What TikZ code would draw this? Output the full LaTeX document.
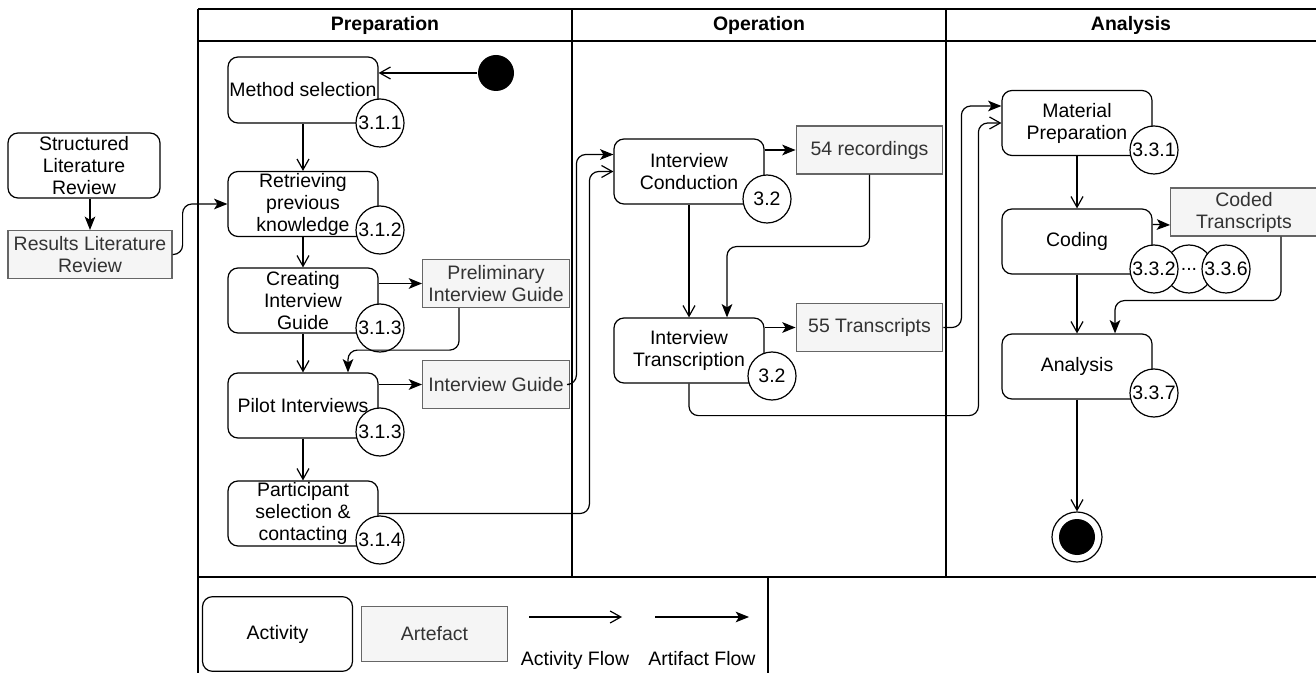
\documentclass[tikz,border=0pt]{standalone}
\usepackage{fontspec}
\setmainfont{Liberation Sans}
\usepackage{xcolor}
\usepackage{tikz}
\usetikzlibrary{arrows.meta,calc,positioning}

\definecolor{artfill}{RGB}{245,245,245}
\definecolor{artline}{RGB}{102,102,102}
\definecolor{arttext}{RGB}{51,51,51}

\tikzset{
  activity/.style={draw, rounded corners=7.5pt, minimum width=112.5pt, minimum height=48.75pt, inner sep=0pt, align=center},
  artefact/.style={draw=artline, fill=artfill, text=arttext, minimum width=110pt, minimum height=36pt, inner sep=0pt, align=center},
  secnum/.style={draw, circle, fill=white, minimum size=36pt, inner sep=0pt},
  actflow/.style={-{Straight Barb[length=8pt,width=9pt]}, rounded corners=7pt},
  artflow/.style={-{Stealth[length=10pt,width=8pt,inset=2.5pt]}, rounded corners=7pt},
}

\begin{document}
\begin{tikzpicture}[x=0.75pt,y=0.75pt,yscale=-1,line width=0.9pt,
  every node/.append style={font=\fontsize{14.6}{16.5}\selectfont}]
\useasboundingbox (0,0) rectangle (1316,673);

%Lanes
\draw (198,9) -- (1316,9);
\draw (198,41) -- (1316,41);
\draw (198,9) -- (198,673);
\draw (572,9) -- (572,577);
\draw (946,9) -- (946,577);
\draw (198,577) -- (1316,577);
\draw (768,577) -- (768,673);
% Text Node
\node[font=\fontsize{14.6}{16.5}\selectfont\bfseries] (hPrep) at (385,25) {Preparation};
\node[font=\fontsize{14.6}{16.5}\selectfont\bfseries] (hOper) at (759,25) {Operation};
\node[font=\fontsize{14.6}{16.5}\selectfont\bfseries] (hAnal) at (1131,25) {Analysis};

%Literature review
\node[activity, minimum width=114pt] (slr) at (84,165.5) {Structured\\Literature\\Review};
\node[artefact, minimum width=123pt] (resultsLR) at (90,254.5) {Results Literature\\Review};

%Preparation
\node[circle, fill=black, minimum size=27pt, inner sep=0pt] (start) at (496,73) {};
\node[activity, minimum height=49.5pt] (methodSel) at (303,90) {Method selection};
\node[activity] (retrieve) at (303,204) {Retrieving\\previous\\knowledge};
\node[activity] (createGuide) at (303,300.5) {Creating\\Interview\\Guide};
\node[activity] (pilot) at (303,405.5) {Pilot Interviews};
\node[activity] (participant) at (303,513.5) {Participant\\selection \&\\contacting};
\node[artefact] (prelimGuide) at (496,283.5) {Preliminary\\Interview Guide};
\node[artefact] (guide) at (496,384.5) {Interview Guide};
\node[secnum] (n311) at (380,123) {3.1.1};
\node[secnum] (n312) at (380,230) {3.1.2};
\node[secnum] (n313a) at (380,328) {3.1.3};
\node[secnum] (n313b) at (380,432) {3.1.3};
\node[secnum] (n314) at (380,540) {3.1.4};

%Operation
\node[activity] (conduct) at (689,171.5) {Interview\\Conduction};
\node[activity] (transcribe) at (689,350.5) {Interview\\Transcription};
\node[artefact] (recordings) at (869.5,150) {54 recordings};
\node[artefact] (transcripts) at (869.5,327.5) {55 Transcripts};
\node[secnum] (n32a) at (767,199) {3.2};
\node[secnum] (n32b) at (772,376) {3.2};

%Analysis
\node[activity] (material) at (1077,123) {Material\\Preparation};
\node[activity] (coding) at (1077,241.5) {Coding};
\node[activity] (analysis) at (1077,366.5) {Analysis};
\node[artefact] (codedTr) at (1244,212) {Coded\\Transcripts};
\node[secnum] (n331) at (1154,150) {3.3.1};
\node[secnum] (nDots) at (1189,269) {...};
\node[secnum] (n332) at (1154,269) {3.3.2};
\node[secnum] (n336) at (1226,269) {3.3.6};
\node[secnum] (n337) at (1154,393) {3.3.7};
\node[circle, draw, fill=white, minimum size=37.5pt, inner sep=0pt] (finish) at (1077,537) {};
\fill (finish.center) circle [radius=13.5pt];

%Activity flow
\draw[actflow] (start.west) -- (start.west -| methodSel.east);
\draw[actflow] (methodSel.south) -- (retrieve.north);
\draw[actflow] (retrieve.south) -- (createGuide.north);
\draw[actflow] (createGuide.south) -- (pilot.north);
\draw[actflow] (pilot.south) -- (participant.north);
\draw[actflow] (participant.east) -| ($(conduct.west)+(-24,0)$) -- (conduct.west);
\draw[actflow] (conduct.south) -- (transcribe.north);
\draw[actflow] (transcribe.south) -- ++(0,32) -| ($(material.west)+(-23,0)$) -- (material.west);
\draw[actflow] (material.south) -- (coding.north);
\draw[actflow] (coding.south) -- (analysis.north);
\draw[actflow] (analysis.south) -- (finish.north);

%Artifact flow
\draw[artflow] (resultsLR.north |- slr.south) -- (resultsLR.north);
\draw[artflow] (resultsLR.east) -- ++(10,0) |- (retrieve.west);
\draw[artflow] (prelimGuide.west -| createGuide.east) -- (prelimGuide.west);
\draw[artflow] ($(prelimGuide.south west)!.25!(prelimGuide.south east)$) -- ++(0,42) -| ($(pilot.north)+(45,0)$);
\draw[artflow] (guide.west -| pilot.east) -- (guide.west);
\draw[artflow] (guide.east) -| ($(conduct.west)+(-37,-17)$) -- ($(conduct.west)+(0,-17)$);
\draw[artflow] (recordings.west -| conduct.east) -- (recordings.west);
\draw[artflow] (recordings.south) -- ++(0,72) -| ($(transcribe.north)+(38,0)$);
\draw[artflow] (transcripts.west -| transcribe.east) -- (transcripts.west);
\draw[artflow] (transcripts.east) -| ($(material.west)+(-40,-17)$) -- ($(material.west)+(0,-17)$);
\draw[artflow] ($(coding.north east)+(0,16)$) -- ($(codedTr.west)+(0,13)$);
\draw[artflow] ($(codedTr.south west)!.75!(codedTr.south east)$) -- ++(0,64) -| ($(analysis.north)+(38,0)$);

%Legend
\node[activity, minimum height=56pt] (legActivity) at (277.5,634) {Activity};
\node[artefact, minimum width=110pt, minimum height=41pt] (legArtefact) at (434.5,634) {Artefact};
\coordinate (actA) at (529,617);
\coordinate (actB) at (622,617);
\coordinate (artA) at (655,617);
\coordinate (artB) at (749,617);
\draw[actflow] (actA) -- (actB);
\draw[artflow] (artA) -- (artB);
\node[anchor=base] (actLbl) at (575,665) {Activity Flow};
\node[anchor=base] (artLbl) at (702,665) {Artifact Flow};
\end{tikzpicture}
\end{document}
